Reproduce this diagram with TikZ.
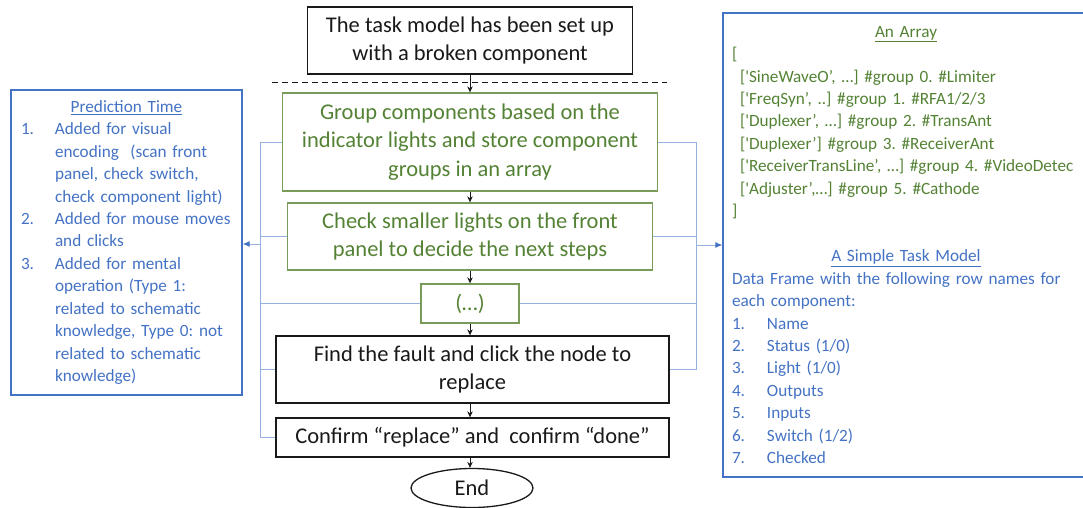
\documentclass[tikz,border=0pt]{standalone}
\usepackage{fontspec}
\setmainfont{Carlito}
\usetikzlibrary{arrows.meta,shapes.geometric}
\definecolor{mblue}{RGB}{68,114,196}
\definecolor{lblue}{RGB}{150,176,224}
\definecolor{mgreen}{RGB}{84,130,53}
\definecolor{gborder}{RGB}{120,155,90}
\definecolor{dgray}{RGB}{25,25,25}
\frenchspacing
% one unbreakable green line inside the array box
\newcommand{\gline}[1]{\mbox{\color{mgreen}#1}}
% numbered list entry with a hanging label
\newcommand{\numlab}[3]{\mbox{\makebox[#1][l]{#2}#3}}
% continuation line of a list entry
\newcommand{\contline}[2]{\mbox{\hspace*{#1}#2}}
\begin{document}
\begin{tikzpicture}[x=1pt,y=-1pt,
  flow/.style={draw=dgray, line width=1.3pt, inner sep=0pt, align=center,
    font=\fontsize{22.5}{28.5}\selectfont},
  greenbox/.style={flow, draw=gborder, text=mgreen},
  blackbox/.style={flow, text=dgray},
  flowarrow/.style={draw=dgray, line width=0.9pt, -{Stealth[length=6pt,width=5.5pt]}},
  conn/.style={draw=lblue, line width=1pt},
  connarrow/.style={conn, -{Latex[length=7pt,width=6pt,color=mblue]}},
  sidebox/.style={draw=mblue, line width=1.2pt, inner ysep=0pt, align=left,
    text=mblue, font=\fontsize{17.2}{22.45}\selectfont}
]
\useasboundingbox (0,0) rectangle (1083,508);

% main flow
\node[blackbox, minimum width=325pt, minimum height=67pt] (top) at (470,40.5)
  {The task model has been set up\\with a broken component};
\node[greenbox, minimum width=375pt, minimum height=98pt] (g1) at (470,142)
  {Group components based on the\\indicator lights and store component\\groups in an array};
\node[greenbox, minimum width=365pt, minimum height=67pt] (g2) at (470,236.5)
  {Check smaller lights on the front\\panel to decide the next steps};
\node[greenbox, minimum width=98pt, minimum height=39pt] (g3) at (470,303.5) {(…)};
\node[blackbox, minimum width=393pt, minimum height=67pt] (b4) at (472.5,369.5)
  {Find the fault and click the node to\\replace};
\node[blackbox, minimum width=393pt, minimum height=39pt] (b5) at (472.5,437.5)
  {Confirm “replace” and\ \ confirm “done”};
\node[draw=dgray, ellipse, line width=1.3pt, minimum width=122pt, minimum height=39pt,
  inner sep=0pt, text=dgray, font=\fontsize{22.5}{28.5}\selectfont] (end) at (472,488) {End};

% separator under the set-up step
\coordinate (d1) at (272,83);
\coordinate (d2) at (667,83);
\draw[dgray, line width=1pt, dash pattern=on 6pt off 4pt] (d1) -- (d2);

\draw[flowarrow] (top.south) -- (g1.north);
\draw[flowarrow] (g1.south) -- (g2.north);
\draw[flowarrow] (g2.south) -- (g3.north);
\draw[flowarrow] (g3.south) -- (b4.north -| g3.south);
\draw[flowarrow] (b4.south -| g3.south) -- (b5.north -| g3.south);
\draw[flowarrow] (b5.south -| g3.south) -- (end.north -| g3.south);

% side panels
\node[sidebox, text width=211pt, inner xsep=10pt, minimum height=305pt] (pt) at (126.5,242.5) {%
\makebox[211pt]{\underline{Prediction Time}}\\
\numlab{34pt}{1.}{Added for visual}\\
\contline{34pt}{encoding\ \ (scan front}\\
\contline{34pt}{panel, check switch,}\\
\contline{34pt}{check component light)}\\
\numlab{34pt}{2.}{Added for mouse moves}\\
\contline{34pt}{and clicks}\\
\numlab{34pt}{3.}{Added for mental}\\
\contline{34pt}{operation (Type 1:}\\
\contline{34pt}{related to schematic}\\
\contline{34pt}{knowledge, Type 0: not}\\
\contline{34pt}{related to schematic}\\
\contline{34pt}{knowledge)}};

\node[sidebox, text width=348pt, inner xsep=9pt, minimum height=464pt] (arr) at (906,245) {%
\makebox[348pt]{\color{mgreen}\underline{An Array}}\\
\gline{{[}}\\
\gline{\hspace*{8pt}{[}\textquotesingle SineWaveO’, …] \#group 0. \#Limiter}\\
\gline{\hspace*{8pt}{[}\textquotesingle FreqSyn’, ..] \#group 1. \#RFA1/2/3}\\
\gline{\hspace*{8pt}{[}\textquotesingle Duplexer’, …] \#group 2. \#TransAnt}\\
\gline{\hspace*{8pt}{[}\textquotesingle Duplexer’] \#group 3. \#ReceiverAnt}\\
\gline{\hspace*{8pt}{[}\textquotesingle ReceiverTransLine’, …] \#group 4. \#VideoDetec}\\
\gline{\hspace*{8pt}{[}\textquotesingle Adjuster’,…] \#group 5. \#Cathode}\\
\gline{]}\\
\mbox{}\\
\makebox[348pt]{\underline{A Simple Task Model}}\\
\mbox{Data Frame with the following row names for}\\
\mbox{each component:}\\
\numlab{35pt}{1.}{Name}\\
\numlab{35pt}{2.}{Status (1/0)}\\
\numlab{35pt}{3.}{Light (1/0)}\\
\numlab{35pt}{4.}{Outputs}\\
\numlab{35pt}{5.}{Inputs}\\
\numlab{35pt}{6.}{Switch (1/2)}\\
\numlab{35pt}{7.}{Checked}};

% links from the steps to the side panels
\coordinate (lx) at (260,0);
\coordinate (rx) at (696,0);
\foreach \n in {g1,g2,g3,b4,b5} \draw[conn] (\n.west) -- (\n.west -| lx);
\draw[conn] (lx |- g1.west) -- (lx |- b5.west);
\foreach \n in {g1,g2,g3,b4} \draw[conn] (\n.east) -- (\n.east -| rx);
\draw[conn] (rx |- g1.east) -- (rx |- b4.east);
\coordinate (la) at (260,244);
\coordinate (ra) at (696,245);
\draw[connarrow] (la) -- (la -| pt.east);
\draw[connarrow] (ra) -- (ra -| arr.west);
\end{tikzpicture}
\end{document}
